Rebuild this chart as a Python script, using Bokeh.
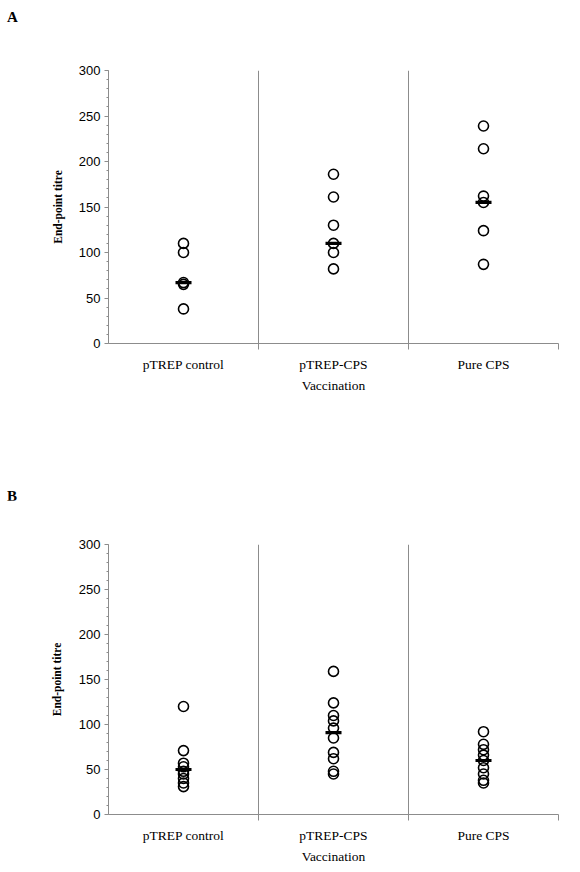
from bokeh.plotting import figure
from bokeh.layouts import column
from bokeh.models import FixedTicker, SingleIntervalTicker, Span, Div
from bokeh.embed import file_html
from bokeh.resources import INLINE

categories = ["pTREP control", "pTREP-CPS", "Pure CPS"]

# Panel A values (end-point titre)
a_control = [110, 100, 67, 65, 38]
a_cps = [186, 161, 130, 110, 100, 82]
a_pure = [239, 214, 162, 155, 124, 87]
a_medians = [67, 110, 155]

# Panel B values
b_control = [120, 71, 57, 53, 48, 45, 40, 35, 31]
b_cps = [159, 124, 110, 104, 96, 85, 69, 62, 48, 45]
b_pure = [92, 78, 72, 66, 60, 52, 45, 38, 35]
b_medians = [50, 91, 60]

GRAY = "#8c8c8c"
SERIF = "Liberation Serif"
SANS = "Liberation Sans"


def letter_div(letter, pad_top, height):
    html = ('<div style="font-family: \'Liberation Serif\', serif; font-weight: bold; '
            'font-size: 15px; line-height: 17px; color: black; padding-top: %dpx; '
            'padding-left: 7px;">%s</div>' % (pad_top, letter))
    return Div(text=html, width=564, height=height, margin=0)


def make_panel(groups, medians, width, height, bl, bt, bb, br, label_standoff):
    p = figure(width=width, height=height, output_backend="svg", toolbar_location=None,
               x_range=(0, 3), y_range=(0, 300),
               min_border_left=bl, min_border_top=bt, min_border_bottom=bb, min_border_right=br)
    p.outline_line_color = None
    p.background_fill_color = "white"
    p.border_fill_color = "white"
    p.xgrid.visible = False
    p.ygrid.visible = False

    centers = [i + 0.5 for i in range(len(categories))]
    for b in range(1, len(categories)):
        p.add_layout(Span(location=b, dimension="height", line_color=GRAY, line_width=1))

    for c, vals in zip(centers, groups):
        p.scatter([c] * len(vals), vals, marker="circle", size=10,
                  fill_color=None, line_color="black", line_width=1.6)
    p.scatter(centers, medians, marker="dash", size=16, line_color="black", line_width=3.2)

    xa = p.xaxis[0]
    xa.ticker = FixedTicker(ticks=centers, minor_ticks=[1, 2, 3])
    xa.major_label_overrides = {c: n for c, n in zip(centers, categories)}
    xa.major_tick_out = 0
    xa.major_tick_in = 0
    xa.minor_tick_out = 6
    xa.minor_tick_in = 0
    xa.minor_tick_line_color = GRAY
    xa.axis_line_color = GRAY
    xa.major_label_standoff = 7
    xa.major_label_text_font = SERIF
    xa.major_label_text_font_size = "13.5px"
    xa.major_label_text_color = "black"
    xa.axis_label = "Vaccination"
    xa.axis_label_text_font = SERIF
    xa.axis_label_text_font_style = "normal"
    xa.axis_label_text_font_size = "13.5px"
    xa.axis_label_text_color = "black"
    xa.axis_label_standoff = 3

    ya = p.yaxis[0]
    ya.ticker = SingleIntervalTicker(interval=50, num_minor_ticks=5)
    ya.axis_line_color = GRAY
    ya.major_tick_line_color = GRAY
    ya.minor_tick_line_color = GRAY
    ya.major_tick_out = 4
    ya.major_tick_in = 0
    ya.minor_tick_out = 2
    ya.minor_tick_in = 0
    ya.major_label_standoff = 4
    ya.major_label_text_font = SANS
    ya.major_label_text_font_size = "13px"
    ya.major_label_text_color = "black"
    ya.axis_label = "End-point titre"
    ya.axis_label_text_font = SERIF
    ya.axis_label_text_font_style = "bold"
    ya.axis_label_text_font_size = "11.5px"
    ya.axis_label_text_color = "black"
    ya.axis_label_standoff = label_standoff
    return p


divA = letter_div("A", 9, 30)
pA = make_panel([a_control, a_cps, a_pure], a_medians,
                width=564, height=440, bl=99, bt=40, bb=127, br=6, label_standoff=12)
divB = letter_div("B", 18, 30)
pB = make_panel([b_control, b_cps, b_pure], b_medians,
                width=564, height=366, bl=108, bt=44, bb=52, br=6, label_standoff=13)

layout = column(divA, pA, divB, pB, spacing=0)
open("out.html", "w").write(file_html(layout, INLINE))
